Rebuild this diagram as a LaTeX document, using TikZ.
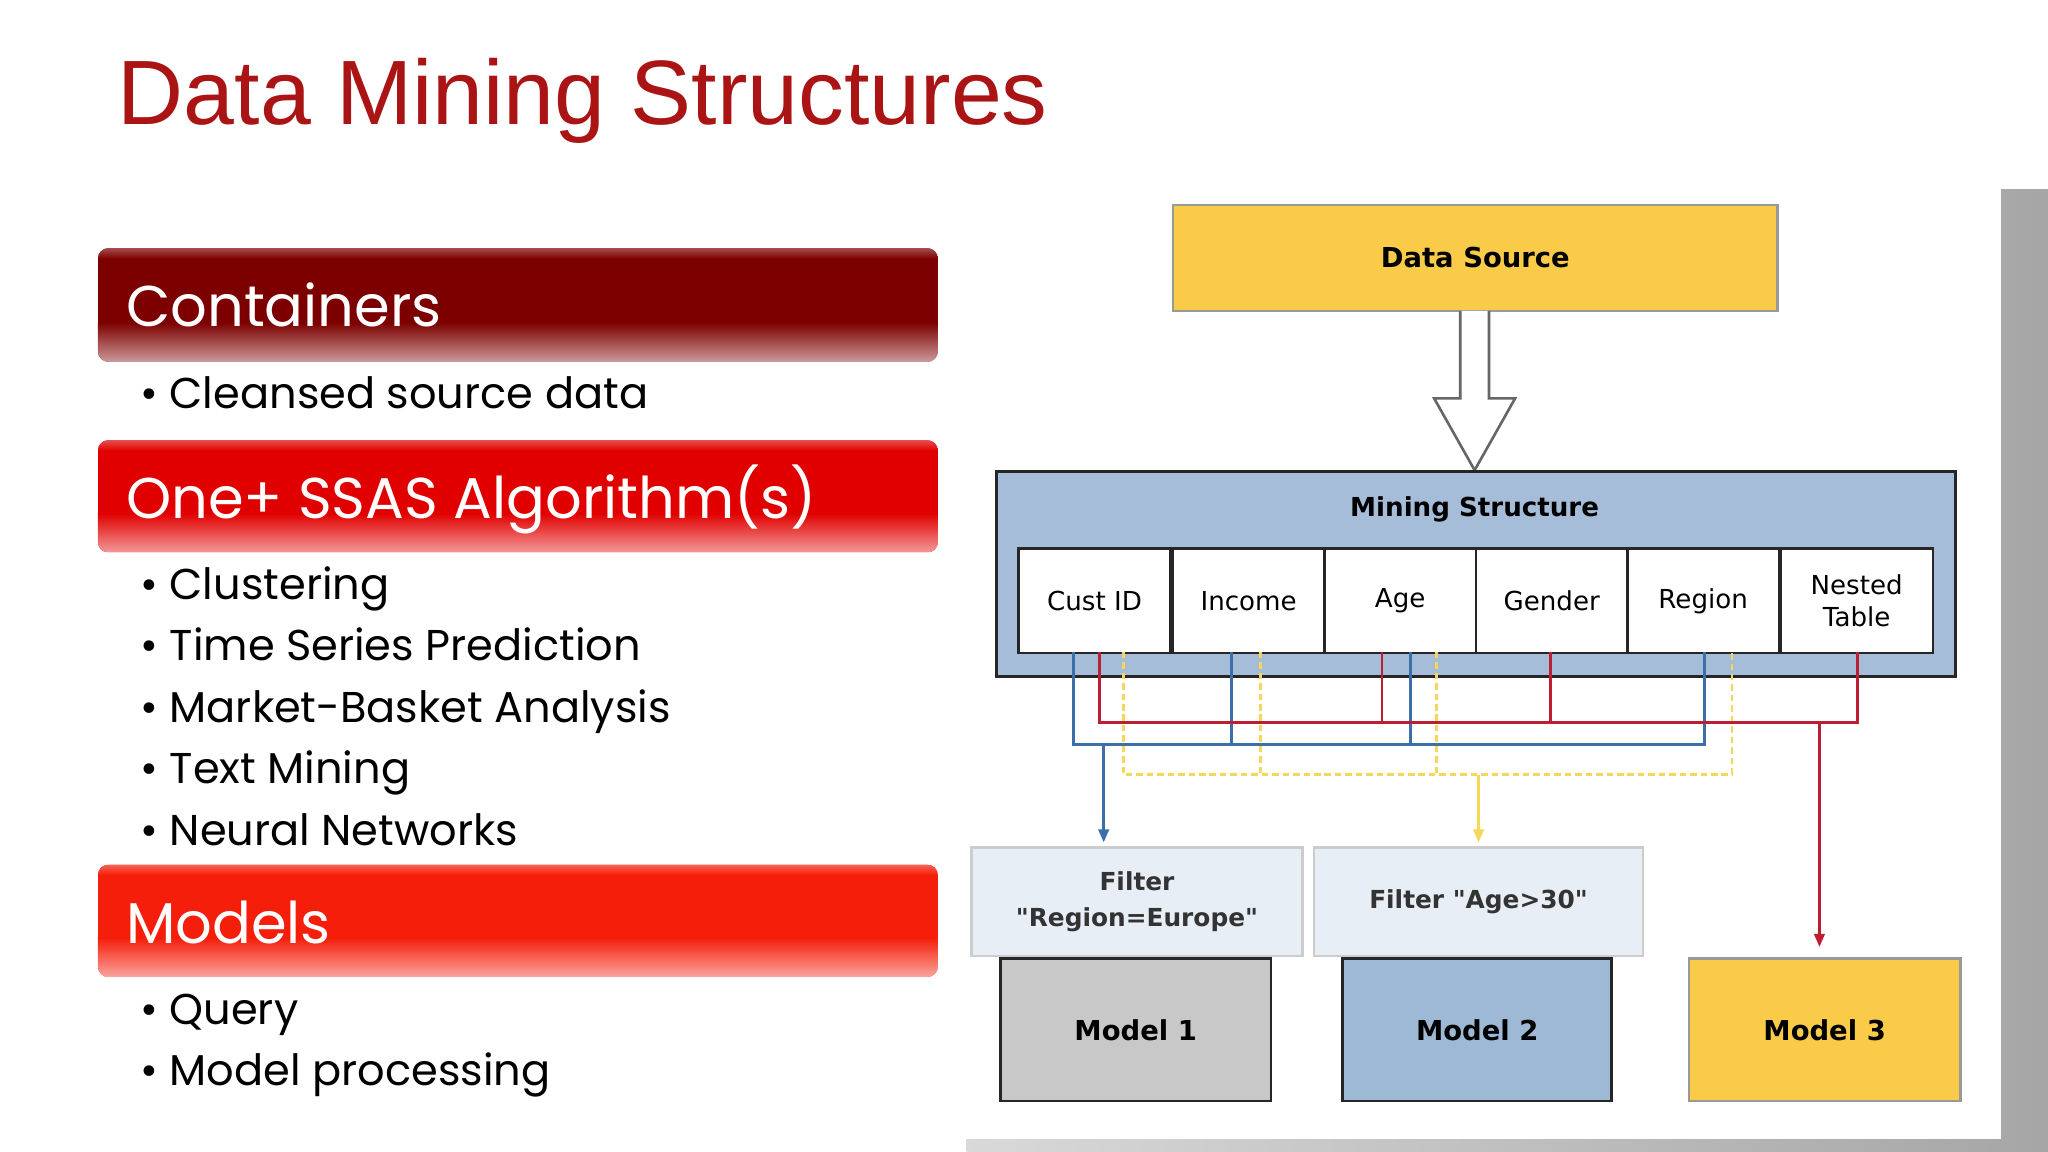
\documentclass[tikz,border=0pt]{standalone}
\usepackage{fontspec}
\setmainfont{Poppins}
\newfontfamily\titlef{Liberation Sans}
\newfontfamily\dgf{DejaVu Sans}
\usetikzlibrary{arrows.meta}
\definecolor{ttl}{RGB}{170,20,20}
\definecolor{dk}{RGB}{125,0,0}
\definecolor{b2c}{RGB}{225,0,0}
\definecolor{b3c}{RGB}{245,30,10}
\definecolor{ds}{RGB}{249,203,72}
\definecolor{ms}{RGB}{166,189,217}
\definecolor{flt}{RGB}{232,238,246}
\definecolor{m1}{RGB}{200,200,200}
\definecolor{m2}{RGB}{157,185,213}
\definecolor{lblue}{RGB}{60,110,170}
\definecolor{lred}{RGB}{190,30,50}
\definecolor{lyel}{RGB}{245,215,90}
\newcommand{\mybanner}[3]{%
 \begin{scope}
 \clip[rounded corners=8pt] (75,#1) rectangle (718,#2);
 \fill[#3] (75,#1) rectangle (718,#2);
 \shade[top color=#3, bottom color=#3!40!white] (75,#2-30) rectangle (718,#2);
 \shade[top color=#3!70!white, bottom color=#3] (75,#1) rectangle (718,#1+8);
 \end{scope}}
\begin{document}
\begin{tikzpicture}[x=1pt,y=-1pt,
 bt/.style={anchor=base west,text=white,font=\fontsize{44}{50}\selectfont},
 bul/.style={anchor=base west,font=\fontsize{33}{40}\selectfont},
 dg/.style={draw=black!85,line width=2pt,font=\dgf\bfseries\fontsize{21}{25}\selectfont,align=center},
 cell/.style={dg,fill=white,font=\dgf\fontsize{20}{24}\selectfont,minimum width=116pt,minimum height=80pt,anchor=north west},
 ln/.style={line width=2pt},
 arr/.style={ln,-{Triangle[length=10pt,width=8pt]}}]
\useasboundingbox (0,0) rectangle (1568,882);
\fill[white] (0,0) rectangle (1568,882);
\node[anchor=base west,text=ttl,font=\titlef\fontsize{70}{80}\selectfont,inner sep=0] (title) at (90,95) {Data Mining Structures};
% banners
\mybanner{190}{277}{dk}
\node[bt] (b1) at (93,250) {Containers};
\mybanner{337}{423}{b2c}
\node[bt] (b2) at (93,397) {One+ SSAS Algorithm(s)};
\mybanner{662}{748}{b3c}
\node[bt] (b3) at (93,722) {Models};
\foreach \t/\y [count=\i] in {Cleansed source data/313,Clustering/459,Time Series Prediction/506,Market-Basket Analysis/553,Text Mining/600,Neural Networks/647,Query/784,Model processing/831}
 \node[bul] (u\i) at (104,\y) {\textbullet\ \t};
% right panel
\shade[left color=black!15,right color=black!35] (740,145) rectangle (1568,882);
\fill[white] (722,127) rectangle (1532,872);
\node[dg,fill=ds,minimum width=463pt,minimum height=81pt,anchor=north west,draw=black!40] (ds) at (897,156) {Data Source};
\draw[line width=2pt,draw=black!60,fill=white] (1118,238) -- (1118,305) -- (1098,305) -- (1129,360) -- (1160,305) -- (1140,305) -- (1140,238);
\node[dg,fill=ms,minimum width=734pt,minimum height=157pt,anchor=north west] (ms) at (762,360) {};
\node[font=\dgf\bfseries\fontsize{20}{24}\selectfont] (mst) at (1129,390) {Mining Structure};
\node[cell] (c1) at (779,419) {Cust ID};
\node[cell] (c2) at (897,419) {Income};
\node[cell] (c3) at (1013,419) {Age};
\node[cell] (c4) at (1129,419) {Gender};
\node[cell] (c5) at (1245,419) {Region};
\node[cell,minimum width=117pt] (c6) at (1362,419) {Nested\\Table};
% connectors
\coordinate (f1t) at (845,645); \coordinate (f2t) at (1132,645); \coordinate (m3t) at (1393,725);
\draw[ln,lyel,dash pattern=on 5pt off 3pt] (860,499) -- (860,593) -- (1326,593) -- (1326,499)
 (965,499) -- (965,593) (1100,499) -- (1100,593);
\draw[arr,lyel] (1132,593) -- (f2t);
\draw[ln,lblue] (822,499) -- (822,570) -- (1305,570) -- (1305,499) (943,499) -- (943,570) (1080,499) -- (1080,570);
\draw[arr,lblue] (845,570) -- (f1t);
\draw[ln,lred] (842,499) -- (842,553) -- (1422,553) -- (1422,499) (1058,499) -- (1058,553) (1187,499) -- (1187,553);
\draw[arr,lred] (1393,553) -- (m3t);
% filters and models
\node[dg,fill=flt,draw=black!20,minimum width=253pt,minimum height=83pt,anchor=north west,font=\dgf\bfseries\fontsize{19}{28}\selectfont,text=black!80] (f1) at (743,648) {Filter\\"Region=Europe"};
\node[dg,fill=flt,draw=black!20,minimum width=252pt,minimum height=83pt,anchor=north west,font=\dgf\bfseries\fontsize{19}{28}\selectfont,text=black!80] (f2) at (1005,648) {Filter "Age>30"};
\node[dg,fill=m1,minimum width=207pt,minimum height=109pt,anchor=north west] (mo1) at (765,733) {Model 1};
\node[dg,fill=m2,minimum width=206pt,minimum height=109pt,anchor=north west] (mo2) at (1027,733) {Model 2};
\node[dg,fill=ds,draw=black!40,minimum width=208pt,minimum height=109pt,anchor=north west] (mo3) at (1292,733) {Model 3};
\end{tikzpicture}
\end{document}
